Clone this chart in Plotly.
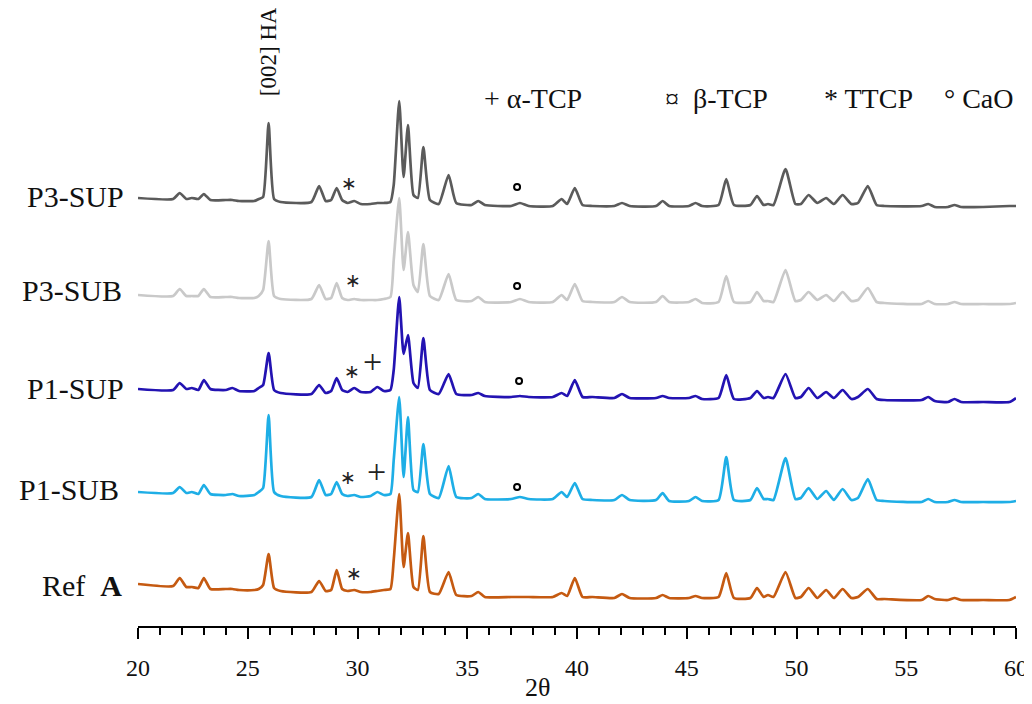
import plotly.graph_objects as go

# 2-theta sampling points (degrees)
two_theta = [20.0, 21.6, 21.9, 22.2, 22.45, 22.75, 23.0, 23.3, 24.0, 24.3,
             24.6, 25.3, 25.5, 25.7, 25.95, 26.2, 26.5, 27.9, 28.25, 28.55,
             28.8, 29.05, 29.3, 29.55, 29.85, 30.15, 30.6, 30.9, 31.2, 31.5,
             31.65, 31.9, 32.1, 32.3, 32.55, 32.75, 33.0, 33.3, 33.7, 34.15,
             34.5, 35.2, 35.5, 35.8, 37.0, 37.4, 37.8, 38.9, 39.3, 39.55,
             39.9, 40.25, 40.7, 41.7, 42.05, 42.4, 43.6, 43.9, 44.2, 45.1,
             45.4, 45.7, 46.45, 46.8, 47.15, 47.9, 48.2, 48.5, 48.7, 48.95,
             49.5, 49.95, 50.2, 50.55, 50.95, 51.35, 51.7, 52.1, 52.5, 52.8,
             53.25, 53.65, 54.0, 55.7, 56.0, 56.3, 56.9, 57.2, 57.5,
             58.5, 59.7, 60.0]

# intensities (arbitrary units)
p3_sup = [12, 11, 17, 11, 12, 11, 16, 10, 10, 10,
          9, 9, 11, 13, 87, 11, 8, 8, 24, 9,
          10, 22, 10, 7, 9, 6, 6, 7, 7, 8,
          25, 109, 33, 85, 15, 12, 63, 10, 6, 35,
          7, 5, 9, 5, 4, 7, 4, 4, 11, 6,
          22, 5, 4, 4, 7, 4, 4, 9, 4, 4,
          7, 4, 5, 31, 5, 5, 14, 5, 6, 5,
          41, 6, 6, 15, 7, 12, 6, 15, 6, 7,
          24, 5, 4, 4, 6, 3, 3, 5, 3,
          3, 4, 4]
p3_sub = [12, 11, 18, 11, 11, 11, 18, 10, 10, 10,
          9, 9, 11, 17, 66, 11, 8, 8, 22, 8,
          9, 24, 9, 7, 8, 7, 7, 7, 8, 10,
          47, 109, 37, 75, 22, 15, 63, 11, 7, 33,
          7, 6, 10, 5, 5, 8, 5, 5, 12, 7,
          23, 6, 5, 5, 10, 5, 5, 11, 5, 5,
          8, 4, 5, 31, 5, 5, 15, 6, 6, 5,
          37, 6, 7, 15, 7, 12, 6, 15, 6, 7,
          19, 5, 4, 3, 6, 3, 3, 5, 3,
          3, 3, 4]
p1_sup = [16, 15, 22, 16, 17, 15, 25, 16, 15, 17,
          14, 14, 17, 20, 52, 15, 12, 11, 20, 12,
          14, 27, 15, 13, 17, 13, 13, 18, 14, 15,
          35, 108, 51, 70, 22, 17, 67, 15, 11, 31,
          11, 10, 12, 9, 8, 9, 8, 8, 12, 9,
          25, 8, 8, 7, 11, 7, 7, 9, 7, 7,
          9, 6, 7, 30, 6, 7, 14, 7, 8, 7,
          31, 7, 8, 17, 7, 13, 7, 15, 6, 8,
          16, 6, 5, 5, 8, 4, 3, 6, 3,
          3, 3, 7]
p1_sub = [13, 12, 18, 12, 13, 11, 20, 11, 10, 11,
          9, 10, 13, 17, 90, 13, 9, 8, 25, 10,
          11, 23, 11, 9, 10, 8, 9, 13, 10, 11,
          45, 108, 28, 88, 15, 13, 61, 11, 7, 39,
          8, 7, 11, 6, 6, 8, 6, 6, 13, 8,
          22, 6, 5, 5, 10, 5, 5, 12, 4, 4,
          8, 4, 5, 48, 5, 5, 17, 6, 6, 5,
          47, 6, 7, 17, 6, 14, 5, 16, 5, 7,
          26, 5, 4, 3, 6, 3, 3, 5, 3,
          3, 3, 4]
ref_a = [19, 17, 25, 16, 16, 15, 25, 14, 14, 14,
         13, 13, 14, 18, 49, 15, 12, 11, 22, 12,
         13, 33, 14, 12, 13, 11, 11, 12, 13, 14,
         43, 109, 36, 70, 16, 13, 67, 11, 9, 31,
         8, 7, 11, 6, 6, 6, 6, 6, 10, 7,
         25, 6, 6, 5, 9, 5, 5, 8, 5, 5,
         7, 5, 6, 30, 5, 5, 15, 6, 8, 6,
         31, 5, 6, 15, 5, 13, 5, 14, 5, 6,
         14, 4, 4, 3, 7, 4, 3, 5, 3,
         3, 3, 6]

series_names = ["P3-SUP", "P3-SUB", "P1-SUP", "P1-SUB", "Ref  <b>A</b>"]
series_values = [p3_sup, p3_sub, p1_sup, p1_sub, ref_a]
series_offsets = [416, 319, 221, 121, 23]
series_colors = ["#5b5b5b", "#c9c9c9", "#2313b2", "#1eaee6", "#c55a11"]

# phase markers: (symbol, 2theta, series index)
phase_marks = [("∗", 29.6, 0), ("∗", 29.8, 1), ("∗", 29.75, 2), ("+", 30.7, 2),
               ("∗", 29.55, 3), ("+", 30.85, 3), ("∗", 29.85, 4)]
cao_marks = [(37.27, 0), (37.27, 1), (37.36, 2), (37.27, 3)]

legend_texts = ["+ α-TCP", "¤  β-TCP", "* TTCP", "° CaO"]
legend_x = [35.67, 43.92, 51.16, 56.63]

SERIF = "Liberation Serif, Times New Roman, serif"
PLOT_W = 878.0
PLOT_H = 618.0

fig = go.Figure()
for name, vals, off, col in zip(series_names, series_values, series_offsets, series_colors):
    fig.add_trace(go.Scatter(
        x=two_theta, y=[v + off for v in vals], mode="lines",
        line=dict(color=col, width=2.7, shape="spline", smoothing=0.5),
        name=name, showlegend=False, hoverinfo="skip"))

annotations = []
# series labels (paper coordinates, left of the plot area)
label_pos = [(75, 430), (72, 336), (75, 238), (69, 136), (82, 41)]
for name, (lx, ly) in zip(series_names, label_pos):
    annotations.append(dict(x=(lx - 138) / PLOT_W, y=ly / PLOT_H, xref="paper", yref="paper",
                            text=name, showarrow=False, xanchor="center", yanchor="middle",
                            font=dict(family=SERIF, size=30, color="#111")))

# phase symbol annotations
sym_y = {0: 443, 1: 346, 2: 255, 3: 149, 4: 53}
plus_y = {2: 265, 3: 155}
for sym, tx, si in phase_marks:
    if sym == "+":
        annotations.append(dict(x=tx, y=plus_y[si], xref="x", yref="y", text="+",
                                showarrow=False, xanchor="center", yanchor="middle",
                                font=dict(family=SERIF, size=34, color="#222")))
    else:
        annotations.append(dict(x=tx, y=sym_y[si], xref="x", yref="y", text=sym,
                                showarrow=False, xanchor="center", yanchor="middle",
                                font=dict(family="DejaVu Sans", size=19, color="#222")))

# CaO circles
cao_y = {0: 439, 1: 340, 2: 245, 3: 139}
fig.add_trace(go.Scatter(
    x=[c[0] for c in cao_marks], y=[cao_y[c[1]] for c in cao_marks],
    mode="markers", marker=dict(symbol="circle-open", size=6, color="black",
                                line=dict(width=2, color="black")),
    showlegend=False, hoverinfo="skip"))

# top legend texts
for t, lx in zip(legend_texts, legend_x):
    annotations.append(dict(x=lx, y=528, xref="x", yref="y", text=t,
                            showarrow=False, xanchor="left", yanchor="middle",
                            font=dict(family=SERIF, size=28, color="#111")))

# [002] HA label
annotations.append(dict(x=25.93, y=574, xref="x", yref="y", text="[002] HA",
                        textangle=-90, showarrow=False, xanchor="center",
                        yanchor="middle", font=dict(family=SERIF, size=23, color="#111")))

# x axis title
annotations.append(dict(x=(537 - 138) / PLOT_W, y=-78 / PLOT_H, xref="paper", yref="paper",
                        text="2θ", showarrow=False, xanchor="center", yanchor="bottom",
                        font=dict(family=SERIF, size=26, color="#111")))

fig.update_layout(
    width=1024, height=696,
    margin=dict(l=130, r=16, t=0, b=78),
    paper_bgcolor="white", plot_bgcolor="white",
    annotations=annotations,
)
fig.update_xaxes(range=[20, 60], showline=True, linecolor="black", linewidth=2,
                 ticks="outside", ticklen=11, tickwidth=1.5, tickcolor="black",
                 tick0=20, dtick=5, showgrid=False, zeroline=False,
                 minor=dict(dtick=1, ticks="outside", ticklen=7, tickwidth=1.5,
                            tickcolor="black", showgrid=False),
                 tickfont=dict(family=SERIF, size=24, color="#111"),
                 ticklabelstandoff=8)
fig.update_yaxes(range=[0, PLOT_H], visible=False, showgrid=False, zeroline=False)

fig.write_html("out.html")
